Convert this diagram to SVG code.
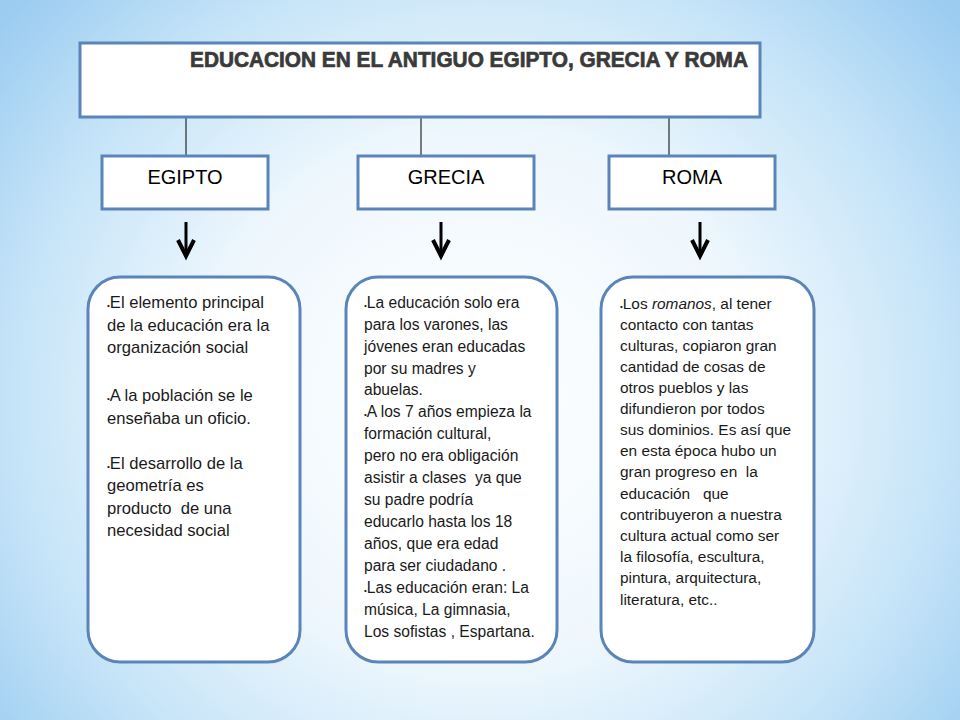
<svg xmlns="http://www.w3.org/2000/svg" width="960" height="720" viewBox="0 0 960 720">
<defs>
<radialGradient id="bg" cx="480" cy="400" r="620" gradientUnits="userSpaceOnUse" gradientTransform="translate(480 400) scale(1 0.95) translate(-480 -400)">
<stop offset="0" stop-color="#ffffff"/>
<stop offset="0.45" stop-color="#eef7fd"/>
<stop offset="0.75" stop-color="#c6e4f8"/>
<stop offset="1" stop-color="#9ccdf1"/>
</radialGradient>
<linearGradient id="refl" x1="0" y1="0" x2="0" y2="1">
<stop offset="0" stop-color="#fff" stop-opacity="0.6"/>
<stop offset="1" stop-color="#fff" stop-opacity="0"/>
</linearGradient>
<mask id="reflMask" maskUnits="userSpaceOnUse" x="0" y="67" width="960" height="14">
<rect x="0" y="68" width="960" height="10" fill="url(#refl)"/>
</mask>
<marker id="ah" viewBox="-3 -12 24 24" refX="16" refY="0" markerWidth="24" markerHeight="24" markerUnits="userSpaceOnUse" orient="auto">
<path d="M0,-8 L16,0 L0,8" fill="none" stroke="#000" stroke-width="4" stroke-linejoin="miter" stroke-miterlimit="10"/>
</marker>
</defs>
<style>
.box{fill:#ffffff;stroke:#5b84b9;stroke-width:3}
.conn{stroke:#000;stroke-width:1;fill:none}
.arrow{stroke:#000;stroke-width:3;fill:none}
.lbl{font-family:"Liberation Sans",Arial,sans-serif;font-size:20px;fill:#000;text-anchor:middle}
.title{font-family:"Liberation Sans",Arial,sans-serif;font-weight:bold;font-size:22px;fill:#3a3a3a;stroke:#3a3a3a;stroke-width:0.7}
.t1{font-family:"Liberation Sans",Arial,sans-serif;font-size:16.6px;fill:#1a1a1a}
.t2{font-family:"Liberation Sans",Arial,sans-serif;font-size:15.6px;fill:#1a1a1a}
.t3{font-family:"Liberation Sans",Arial,sans-serif;font-size:15.4px;fill:#1a1a1a}
.b{font-size:8px}
</style>
<rect x="0" y="0" width="960" height="720" fill="url(#bg)"/>

<g id="connectors">
<line class="conn" x1="186" y1="117" x2="186" y2="156"/>
<line class="conn" x1="421" y1="117" x2="421" y2="156"/>
<line class="conn" x1="669" y1="117" x2="669" y2="156"/>
<line class="arrow" x1="186" y1="222" x2="186" y2="256" marker-end="url(#ah)"/>
<line class="arrow" x1="441" y1="222" x2="441" y2="256" marker-end="url(#ah)"/>
<line class="arrow" x1="700" y1="222" x2="700" y2="256" marker-end="url(#ah)"/>
</g>

<g id="title">
<rect class="box" x="80" y="43" width="680" height="74"/>
<text id="titletext" class="title" x="190" y="67" textLength="558" lengthAdjust="spacingAndGlyphs">EDUCACION EN EL ANTIGUO EGIPTO, GRECIA Y ROMA</text>
<use href="#titletext" transform="translate(0 135) scale(1 -1)" mask="url(#reflMask)" opacity="0.6"/>
</g>

<g id="egipto">
<rect class="box" x="102" y="156" width="166" height="53"/>
<text class="lbl" x="185" y="184">EGIPTO</text>
</g>
<g id="grecia">
<rect class="box" x="358" y="156" width="176" height="53"/>
<text class="lbl" x="446" y="184">GRECIA</text>
</g>
<g id="roma">
<rect class="box" x="609" y="156" width="166" height="53"/>
<text class="lbl" x="692" y="184">ROMA</text>
</g>

<g id="egipto-detail">
<rect class="box" x="88" y="277" width="212" height="385" rx="32"/>
<text class="t1" xml:space="preserve"><tspan x="107" y="308"><tspan class="b">•</tspan>El elemento principal</tspan><tspan x="107" y="331">de la educación era la</tspan><tspan x="107" y="353">organización social</tspan><tspan x="107" y="401"><tspan class="b">•</tspan>A la población se le</tspan><tspan x="107" y="424">enseñaba un oficio.</tspan><tspan x="107" y="469"><tspan class="b">•</tspan>El desarrollo de la</tspan><tspan x="107" y="491">geometría es</tspan><tspan x="107" y="514">producto  de una</tspan><tspan x="107" y="536">necesidad social</tspan></text>
</g>

<g id="grecia-detail">
<rect class="box" x="346" y="277" width="211" height="385" rx="32"/>
<text class="t2" xml:space="preserve"><tspan x="364" y="308"><tspan class="b">•</tspan>La educación solo era</tspan><tspan x="364" y="330">para los varones, las</tspan><tspan x="364" y="352">jóvenes eran educadas</tspan><tspan x="364" y="374">por su madres y</tspan><tspan x="364" y="395">abuelas.</tspan><tspan x="364" y="417"><tspan class="b">•</tspan>A los 7 años empieza la</tspan><tspan x="364" y="439">formación cultural,</tspan><tspan x="364" y="461">pero no era obligación</tspan><tspan x="364" y="483">asistir a clases  ya que</tspan><tspan x="364" y="505">su padre podría</tspan><tspan x="364" y="527">educarlo hasta los 18</tspan><tspan x="364" y="549">años, que era edad</tspan><tspan x="364" y="571">para ser ciudadano .</tspan><tspan x="364" y="593"><tspan class="b">•</tspan>Las educación eran: La</tspan><tspan x="364" y="615">música, La gimnasia,</tspan><tspan x="364" y="637">Los sofistas , Espartana.</tspan></text>
</g>

<g id="roma-detail">
<rect class="box" x="601" y="277" width="213" height="385" rx="32"/>
<text class="t3" xml:space="preserve"><tspan x="620" y="309"><tspan class="b">•</tspan>Los <tspan font-style="italic">romanos</tspan>, al tener</tspan><tspan x="620" y="330">contacto con tantas</tspan><tspan x="620" y="351">culturas, copiaron gran</tspan><tspan x="620" y="372">cantidad de cosas de</tspan><tspan x="620" y="393">otros pueblos y las</tspan><tspan x="620" y="414">difundieron por todos</tspan><tspan x="620" y="435">sus dominios. Es así que</tspan><tspan x="620" y="456">en esta época hubo un</tspan><tspan x="620" y="477">gran progreso en  la</tspan><tspan x="620" y="499">educación   que</tspan><tspan x="620" y="520">contribuyeron a nuestra</tspan><tspan x="620" y="541">cultura actual como ser</tspan><tspan x="620" y="562">la filosofía, escultura,</tspan><tspan x="620" y="583">pintura, arquitectura,</tspan><tspan x="620" y="605">literatura, etc..</tspan></text>
</g>
</svg>
